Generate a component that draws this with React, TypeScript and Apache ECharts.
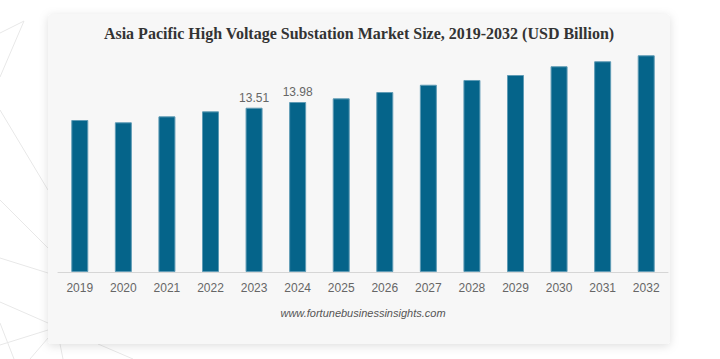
import React, { useEffect, useRef } from "react";
import * as echarts from "echarts";

const years = ["2019", "2020", "2021", "2022", "2023", "2024", "2025", "2026", "2027", "2028", "2029", "2030", "2031", "2032"];
const marketSize = [12.5, 12.31, 12.8, 13.21, 13.51, 13.98, 14.28, 14.8, 15.4, 15.79, 16.2, 16.92, 17.33, 17.82];
const labeledYears = ["2023", "2024"];
const titleText = "Asia Pacific High Voltage Substation Market Size, 2019-2032 (USD Billion)";
const sourceText = "www.fortunebusinessinsights.com";

const decoLines: number[][] = [
  [0, 33, 24, 21],
  [24, 21, 0, 77],
  [0, 110, 48, 190],
  [0, 200, 48, 248],
  [0, 258, 48, 273],
  [0, 302, 48, 323],
  [0, 323, 14, 359],
  [0, 345, 48, 330],
  [48, 338, 30, 359],
  [60, 344, 63, 359],
  [98, 344, 133, 359],
];

export default function App() {
  const ref = useRef<HTMLDivElement>(null);
  useEffect(() => {
    if (!ref.current) return;
    const chart = echarts.init(ref.current, null, { renderer: "svg" });
    const graphics: any[] = decoLines.map((l) => ({
      type: "line",
      z: -10,
      silent: true,
      shape: { x1: l[0], y1: l[1], x2: l[2], y2: l[3] },
      style: { stroke: "#e8e8e8", lineWidth: 1 },
    }));
    graphics.push({
      type: "rect",
      z: -5,
      silent: true,
      shape: { x: 48, y: 14, width: 622, height: 330, r: 4 },
      style: { fill: "#f7f7f7", shadowBlur: 10, shadowColor: "rgba(0,0,0,0.13)", shadowOffsetY: 2 },
    });
    graphics.push({
      type: "text",
      z: 10,
      x: 359,
      y: 33,
      style: {
        text: titleText,
        font: "bold 16px 'Liberation Serif', 'Times New Roman', serif",
        fill: "#333333",
        align: "center",
        verticalAlign: "middle",
      },
    });
    graphics.push({
      type: "text",
      z: 10,
      x: 363,
      y: 313,
      style: {
        text: sourceText,
        font: "italic 11px 'Liberation Sans', Arial, sans-serif",
        fill: "#555555",
        align: "center",
        verticalAlign: "middle",
      },
    });

    chart.setOption({
      animation: false,
      backgroundColor: "#ffffff",
      graphic: graphics,
      grid: { left: 58, right: 52, top: 28.8, bottom: 87 },
      xAxis: {
        type: "category",
        data: years,
        axisLine: { lineStyle: { color: "#d6d6d6", width: 1 } },
        axisTick: { show: false },
        axisLabel: {
          color: "#666666",
          fontSize: 12,
          fontFamily: "'Liberation Sans', Arial, sans-serif",
          margin: 10,
        },
      },
      yAxis: {
        type: "value",
        min: 0,
        max: 20,
        show: false,
        splitLine: { show: false },
      },
      series: [
        {
          type: "bar",
          barWidth: 17,
          data: marketSize.map((v, i) => ({
            value: v,
            label: {
              show: labeledYears.includes(years[i]),
              position: "top",
              distance: 4,
              color: "#666666",
              fontSize: 12,
              fontFamily: "'Liberation Sans', Arial, sans-serif",
              formatter: (p: any) => Number(p.value).toFixed(2),
            },
          })),
          itemStyle: { color: "#05648a", borderColor: "#5f9bb5", borderWidth: 1 },
        },
      ],
    });
    return () => chart.dispose();
  }, []);
  return (
    <div
      ref={ref}
      style={{ position: "fixed", left: 0, top: 0, width: 720, height: 359 }}
    />
  );
}
